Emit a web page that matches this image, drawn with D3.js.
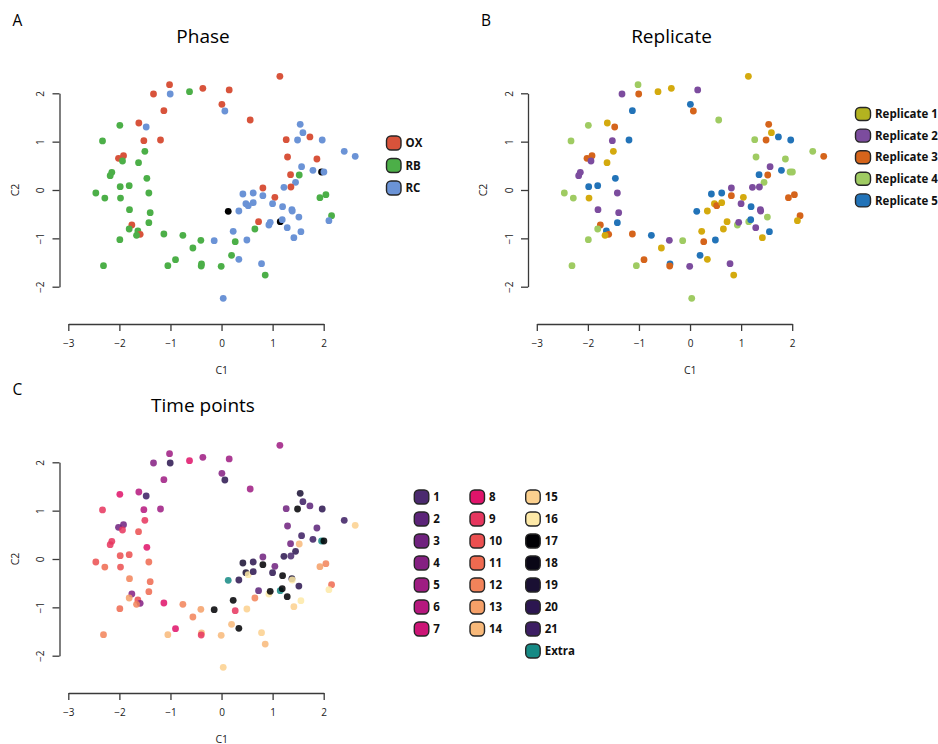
<!DOCTYPE html>
<html>
<head>
<meta charset="utf-8">
<script src="https://cdn.jsdelivr.net/npm/d3@7"></script>
<style>
  body { margin: 0; background: #fff; }
  svg { display: block; font-family: "Open Sans", "Noto Sans", sans-serif; }
</style>
</head>
<body>
<svg id="chart" width="938" height="744"></svg>
<script>
// ----------------------------
// Data
// ----------------------------
const c1 = [
  -1.018, -1.332, -1.005, -0.627, -0.366, 0.150, 0.007, 0.065, -1.129, 1.142,
  0.561, -1.991, -1.619, -1.475, -2.330, -1.521, -1.195, -1.501, -1.919, -2.017,
  -1.939, -1.625, -2.148, -2.180, -1.462, -1.984, -1.808, -2.461, -2.285, -1.978,
  -1.423, 1.540, 1.593, 1.730, 1.266, 1.488, 1.971, 2.402, 2.617, 1.292,
  1.867, 1.567, 1.789, 1.958, 2.004, 1.351, 1.521, 1.449, 0.809, 1.358,
  0.418, 0.620, 0.809, 1.044, 1.221, 1.926, 2.043,
  -1.802, -1.397, 0.131, 0.339, -1.756, -1.808, -1.423, -1.638, -1.593, -1.664,
  -1.991, -1.129, -0.757, -0.405, -0.144, 0.228, 0.268, -0.561, 0.196, 0.339,
  -2.311, -1.051, -0.901, -0.392, -0.398, -0.007, 0.033,
  0.477, 0.522, 0.620, 0.999, 1.195, 1.377, 1.384, 2.154, 2.102, 1.514,
  0.725, 1.149, 1.188, 0.927, 0.953, 0.653, 1.286, 1.554, 1.416, 0.496,
  0.783, 0.855
];
const c2 = [
  2.179, 1.986, 1.986, 2.034, 2.103, 2.069, 1.772, 1.634, 1.641, 2.352,
  1.448, 1.338, 1.386, 1.303, 1.014, 1.021, 1.034, 0.800, 0.710, 0.655,
  0.600, 0.566, 0.366, 0.297, 0.241, 0.069, 0.090, -0.062, -0.166, -0.166,
  -0.062, 1.359, 1.186, 1.097, 1.041, 1.034, 1.034, 0.800, 0.697, 0.683,
  0.641, 0.483, 0.407, 0.372, 0.372, 0.317, 0.310, 0.159, 0.041, 0.062,
  -0.083, -0.062, -0.117, -0.152, 0.055, -0.159, -0.097,
  -0.407, -0.469, -0.441, -0.434, -0.724, -0.807, -0.676, -0.848, -0.917, -0.938,
  -1.028, -0.910, -0.938, -1.041, -1.048, -0.855, -1.069, -1.200, -1.352, -1.434,
  -1.566, -1.566, -1.441, -1.531, -1.572, -1.579, -2.241,
  -0.283, -0.324, -0.262, -0.283, -0.345, -0.407, -0.434, -0.531, -0.634, -0.559,
  -0.655, -0.655, -0.614, -0.724, -0.669, -0.807, -0.779, -0.862, -0.986, -1.034,
  -1.524, -1.759
];
const phase = [
  'OX', 'OX', 'RC', 'RB', 'OX', 'OX', 'OX', 'RC', 'OX', 'OX',
  'OX', 'RB', 'OX', 'RC', 'RB', 'OX', 'OX', 'RB', 'OX', 'OX',
  'RB', 'RB', 'RB', 'RB', 'RB', 'RB', 'RB', 'RB', 'RB', 'RB',
  'RB', 'RC', 'RC', 'OX', 'OX', 'RC', 'RC', 'RC', 'RC', 'OX',
  'OX', 'RC', 'RC', 'NA', 'RC', 'OX', 'RB', 'RC', 'OX', 'OX',
  'RC', 'RC', 'RC', 'OX', 'RC', 'RB', 'RB',
  'RB', 'RB', 'NA', 'RC', 'OX', 'RB', 'RB', 'RB', 'OX', 'RB',
  'RB', 'RB', 'RB', 'RB', 'RC', 'RC', 'RB', 'RB', 'RB', 'RC',
  'RB', 'RB', 'RB', 'RB', 'RB', 'RB', 'RC',
  'RC', 'RC', 'RC', 'RC', 'RC', 'RC', 'RC', 'RB', 'RC', 'RC',
  'OX', 'NA', 'RC', 'RC', 'RC', 'RB', 'RC', 'RC', 'RC', 'RC',
  'RC', 'RB'
];
const replicate = [
  4, 2, 3, 1, 1, 2, 5, 3, 5, 1,
  4, 4, 1, 3, 4, 2, 5, 1, 3, 3,
  2, 1, 2, 2, 5, 5, 5, 4, 4, 1,
  2, 3, 1, 5, 4, 3, 5, 4, 3, 4,
  4, 2, 5, 4, 4, 5, 3, 4, 2, 2,
  5, 5, 3, 1, 2, 3, 3,
  2, 2, 5, 1, 3, 4, 5, 5, 3, 1,
  4, 3, 5, 2, 4, 1, 3, 1, 5, 1,
  4, 4, 3, 5, 3, 2, 4,
  1, 3, 1, 2, 5, 2, 2, 3, 1, 4,
  1, 4, 5, 4, 2, 1, 2, 5, 1, 5,
  2, 1
];
// time point index, 'Extra' for the three unphased samples
const timepoint = [
  '5', '4', '20', '8', '5', '5', '4', '20', '5', '5',
  '5', '8', '6', '21', '9', '6', '5', '9', '3', '3',
  '9', '10', '9', '9', '8', '10', '10', '10', '11', '10',
  '11', '19', '21', '2', '3', '17', '20', '21', '15', '3',
  '2', '21', '21', 'Extra', '17', '3', '14', '20', '3', '1',
  '19', '20', '17', '3', '20', '13', '12',
  '12', '11', 'Extra', '20', '4', '13', '11', '10', '4', '12',
  '11', '8', '12', '13', '17', '17', '9', '12', '14', '17',
  '12', '14', '8', '14', '9', '14', '15',
  '19', '16', '20', '20', '17', '19', '16', '11', '16', '20',
  '2', 'Extra', '17', '16', '17', '12', '17', '16', '15', '15',
  '15', '14'
];

const phaseLevels = ['OX', 'RB', 'RC'];
const replicateLevels = ['Replicate 1', 'Replicate 2', 'Replicate 3', 'Replicate 4', 'Replicate 5'];
const timeLevels = ['1', '2', '3', '4', '5', '6', '7', '8', '9', '10', '11', '12', '13', '14',
  '15', '16', '17', '18', '19', '20', '21', 'Extra'];
const xTicks = [-3, -2, -1, 0, 1, 2];
const yTicks = [-2, -1, 0, 1, 2];

// ----------------------------
// Colours
// ----------------------------
const phaseColors = { OX: '#d8533b', RB: '#4caf48', RC: '#6b93d6', NA: '#000000' };
const replicatePointColors = ['#d4aa0e', '#7c4c9e', '#d5641b', '#9fcb62', '#2273b8'];
const replicateKeyColors = ['#b3b320', '#7c4c9e', '#d5641b', '#9fcb62', '#2273b8'];
const timeColors = [
  '#4b2a6f', '#5c2479', '#70227f', '#852082', '#9e1c82', '#b6187e', '#cc1576',
  '#e0146a', '#e6365e', '#eb4f50', '#ef6a50', '#f2835a', '#f5a068', '#f8b97a',
  '#fbd08e', '#fde9a8', '#000004', '#0a0716', '#1a1033', '#2c1650', '#3d1e63',
  '#168a85'
];

const svg = d3.select('#chart');

// ----------------------------
// Panel layout
// ----------------------------
const panels = [
  {
    letter: 'A', title: 'Phase', dx: 0, dy: 0, pointOpacity: 1,
    color: i => phaseColors[phase[i]],
    legend: phaseLevels.map((l, k) => ({ label: l, color: phaseColors[l], col: 0, row: k })),
    legendX: 386.5, legendY: 136, rowGap: 22.5, keyW: 14.5, keyH: 14
  },
  {
    letter: 'B', title: 'Replicate', dx: 468.5, dy: 0, pointOpacity: 1,
    color: i => replicatePointColors[replicate[i] - 1],
    legend: replicateLevels.map((l, k) => ({ label: l, color: replicateKeyColors[k], col: 0, row: k })),
    legendX: 387, legendY: 107.5, rowGap: 21.6, keyW: 15, keyH: 13
  },
  {
    letter: 'C', title: 'Time points', dx: 0, dy: 369, pointOpacity: 0.86,
    color: i => timeColors[timeLevels.indexOf(timepoint[i])],
    legend: timeLevels.map((l, k) => ({
      label: l, color: timeColors[k],
      col: k === 21 ? 2 : Math.floor(k / 7), row: k === 21 ? 7 : k % 7
    })),
    legendX: 414.3, legendY: 121, rowGap: 22, keyW: 14.5, keyH: 14, colGap: 55.7
  }
];

const x = d3.scaleLinear().domain([-3, 2]).range([68.3, 323.7]);
const y = d3.scaleLinear().domain([-2, 2]).range([286.7, 93.3]);
const axisColor = '#3a3a3a';

panels.forEach(p => {
  const g = svg.append('g').attr('transform', `translate(${p.dx},${p.dy})`);

  // panel letter + title
  g.append('text')
    .attr('x', 12.5).attr('y', 26)
    .attr('font-size', 15.5).attr('fill', '#000')
    .text(p.letter);
  g.append('text')
    .attr('x', 203).attr('y', 42.5)
    .attr('text-anchor', 'middle')
    .attr('font-size', 19).attr('fill', '#000')
    .text(p.title);

  // ---- x axis
  const gx = g.append('g')
    .attr('transform', 'translate(0,324)')
    .call(d3.axisBottom(x).tickValues(xTicks).tickSize(7).tickSizeOuter(0).tickFormat(d3.format('d')));
  gx.select('.domain').attr('stroke', axisColor).attr('stroke-width', 1.3);
  gx.selectAll('.tick line').attr('stroke', axisColor).attr('stroke-width', 1.3);
  gx.selectAll('.tick text')
    .attr('y', 16).attr('fill', '#222')
    .attr('font-size', 10).attr('font-family', '"Open Sans", sans-serif');
  g.append('text')
    .attr('x', 221.7).attr('y', 373.5)
    .attr('text-anchor', 'middle').attr('font-size', 10.5).attr('fill', '#222')
    .text('C1');

  // ---- y axis
  const gy = g.append('g')
    .attr('transform', 'translate(59.5,0)')
    .call(d3.axisLeft(y).tickValues(yTicks).tickSize(7).tickSizeOuter(0).tickFormat(d3.format('d')));
  gy.select('.domain').attr('stroke', axisColor).attr('stroke-width', 1.3);
  gy.selectAll('.tick line').attr('stroke', axisColor).attr('stroke-width', 1.3);
  gy.selectAll('.tick text')
    .attr('x', null).attr('dy', null)
    .attr('text-anchor', 'middle')
    .attr('transform', 'translate(-15.5,0) rotate(-90)')
    .attr('fill', '#222')
    .attr('font-size', 10).attr('font-family', '"Open Sans", sans-serif');
  g.append('text')
    .attr('transform', 'translate(18.5,190) rotate(-90)')
    .attr('text-anchor', 'middle').attr('font-size', 10.5).attr('fill', '#222')
    .text('C2');

  // ---- points
  g.append('g')
    .selectAll('circle')
    .data(d3.range(c1.length))
    .join('circle')
    .attr('cx', i => x(c1[i]))
    .attr('cy', i => y(c2[i]))
    .attr('r', 3.4)
    .attr('fill', i => p.color(i))
    .attr('fill-opacity', p.pointOpacity);

  // ---- legend
  const leg = g.append('g')
    .attr('transform', `translate(${p.letter === 'B' ? 855.5 - p.dx : p.legendX},${p.letter === 'C' ? 490 - p.dy : p.legendY})`);
  const item = leg.selectAll('g')
    .data(p.legend)
    .join('g')
    .attr('transform', d => `translate(${d.col * (p.colGap || 0)},${d.row * p.rowGap})`);
  item.append('rect')
    .attr('width', p.keyW).attr('height', p.keyH)
    .attr('rx', 4.5).attr('ry', 4.5)
    .attr('fill', d => d.color)
    .attr('stroke', '#262626').attr('stroke-width', 1.4);
  item.append('text')
    .attr('x', p.keyW + 4.5)
    .attr('y', p.keyH / 2)
    .attr('dy', '0.36em')
    .attr('font-size', 11.5).attr('font-weight', 700).attr('fill', '#111')
    .text(d => d.label);
});
</script>
</body>
</html>
